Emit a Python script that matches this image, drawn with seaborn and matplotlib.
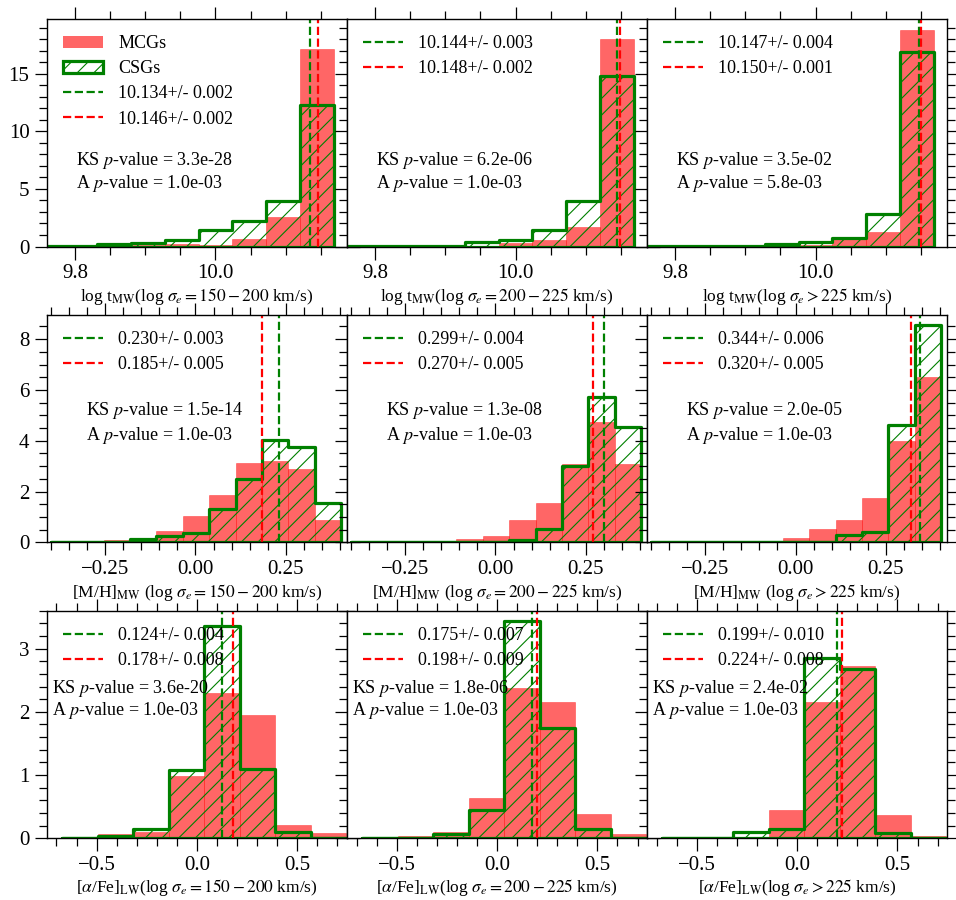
import numpy as np
import pandas as pd
import matplotlib
matplotlib.use("Agg")
import matplotlib.pyplot as plt
from matplotlib.patches import Patch
from matplotlib.lines import Line2D
from matplotlib.ticker import MultipleLocator
import seaborn as sns

# bin edges (one set per row)
t_edges = [9.736, 9.784, 9.832, 9.880, 9.928, 9.976, 10.024, 10.072, 10.120, 10.168]
mh_edges = [-0.400, -0.327, -0.254, -0.181, -0.108, -0.035, 0.038, 0.111, 0.184, 0.257, 0.330, 0.403]
afe_edges = [-0.672, -0.495, -0.318, -0.141, 0.036, 0.213, 0.390, 0.567, 0.744]

# normalised histogram heights, columns: sigma 150-200, 200-225, >225
t_mcg = [[0.03, 0.05, 0.05, 0.10, 0.20, 0.15, 0.66, 2.60, 17.1],
         [0.02, 0.02, 0.02, 0.03, 0.05, 0.30, 0.58, 1.70, 18.0],
         [0.00, 0.00, 0.00, 0.00, 0.02, 0.10, 0.66, 1.27, 18.8]]
t_csg = [[0.05, 0.05, 0.20, 0.30, 0.55, 1.40, 2.20, 3.96, 12.3],
         [0.03, 0.05, 0.05, 0.05, 0.40, 0.58, 1.39, 3.96, 14.8],
         [0.03, 0.03, 0.03, 0.03, 0.20, 0.37, 0.78, 2.83, 16.85]]
mh_mcg = [[0.01, 0.03, 0.08, 0.15, 0.45, 1.03, 1.86, 3.13, 3.20, 2.90, 0.87],
          [0.00, 0.00, 0.00, 0.00, 0.12, 0.24, 0.87, 1.55, 3.10, 4.75, 3.10],
          [0.00, 0.00, 0.00, 0.00, 0.00, 0.17, 0.51, 0.87, 1.74, 3.99, 6.53]]
mh_csg = [[0.01, 0.03, 0.03, 0.12, 0.24, 0.38, 1.30, 2.49, 4.05, 3.76, 1.55],
          [0.00, 0.00, 0.00, 0.00, 0.00, 0.00, 0.10, 0.53, 3.00, 5.74, 4.53],
          [0.00, 0.00, 0.00, 0.00, 0.00, 0.00, 0.00, 0.30, 0.41, 4.62, 8.57]]
afe_mcg = [[0.00, 0.06, 0.105, 0.98, 2.29, 1.95, 0.21, 0.08],
           [0.015, 0.03, 0.095, 0.64, 2.38, 2.15, 0.38, 0.06],
           [0.00, 0.00, 0.00, 0.45, 2.16, 2.72, 0.37, 0.04]]
afe_csg = [[0.00, 0.04, 0.14, 1.08, 3.36, 1.09, 0.095, 0.00],
           [0.01, 0.005, 0.06, 0.45, 3.43, 1.75, 0.14, 0.00],
           [0.00, 0.00, 0.095, 0.14, 2.85, 2.68, 0.09, 0.00]]

# means +/- errors
t_csg_mean, t_csg_err = [10.134, 10.144, 10.147], [0.002, 0.003, 0.004]
t_mcg_mean, t_mcg_err = [10.146, 10.148, 10.150], [0.002, 0.002, 0.001]
mh_csg_mean, mh_csg_err = [0.230, 0.299, 0.344], [0.003, 0.004, 0.006]
mh_mcg_mean, mh_mcg_err = [0.185, 0.270, 0.320], [0.005, 0.005, 0.005]
afe_csg_mean, afe_csg_err = [0.124, 0.175, 0.199], [0.004, 0.007, 0.010]
afe_mcg_mean, afe_mcg_err = [0.178, 0.198, 0.224], [0.008, 0.009, 0.008]

# p-values
t_ks, t_a = ["3.3e-28", "6.2e-06", "3.5e-02"], ["1.0e-03", "1.0e-03", "5.8e-03"]
mh_ks, mh_a = ["1.5e-14", "1.3e-08", "2.0e-05"], ["1.0e-03", "1.0e-03", "1.0e-03"]
afe_ks, afe_a = ["3.6e-20", "1.8e-06", "2.4e-02"], ["1.0e-03", "1.0e-03", "1.0e-03"]

sig_bins = [r"(log $\sigma_e = 150 - 200$ km/s)", r"(log $\sigma_e = 200 - 225$ km/s)",
            r"(log $\sigma_e > 225$ km/s)"]

rows = [
    dict(edges=t_edges, mcg=t_mcg, csg=t_csg, cm=t_csg_mean, ce=t_csg_err, mm=t_mcg_mean, me=t_mcg_err,
         ks=t_ks, a=t_a, name=r"log t$_{\rm MW}$", xlim=(9.76, 10.187), ylim=(0, 19.75),
         xmaj=0.2, xmin=0.05, ymaj=5, ymin=1, txt=(0.097, 0.356, 0.259)),
    dict(edges=mh_edges, mcg=mh_mcg, csg=mh_csg, cm=mh_csg_mean, ce=mh_csg_err, mm=mh_mcg_mean, me=mh_mcg_err,
         ks=mh_ks, a=mh_a, name=r"[M/H]$_{\rm MW}$ ", xlim=(-0.411, 0.419), ylim=(0, 8.96),
         xmaj=0.25, xmin=0.05, ymaj=2, ymin=0.5, txt=(0.13, 0.558, 0.448)),
    dict(edges=afe_edges, mcg=afe_mcg, csg=afe_csg, cm=afe_csg_mean, ce=afe_csg_err, mm=afe_mcg_mean, me=afe_mcg_err,
         ks=afe_ks, a=afe_a, name=r"[$\alpha$/Fe]$_{\rm LW}$", xlim=(-0.748, 0.747), ylim=(0, 3.6),
         xmaj=0.5, xmin=0.1, ymaj=1, ymin=0.2, txt=(0.016, 0.637, 0.542)),
]

sns.set_style("ticks")
plt.rcParams.update({
    "font.family": ["Liberation Serif", "DejaVu Serif"],
    "mathtext.fontset": "stix",
    "hatch.color": "green",
    "hatch.linewidth": 0.8,
    "axes.linewidth": 1.0,
    "axes.edgecolor": "black",
    "text.color": "black",
    "axes.labelcolor": "black",
    "xtick.color": "black",
    "ytick.color": "black",
})

fig, axes = plt.subplots(3, 3, figsize=(9.56, 9.0), dpi=100, sharey="row")
fig.subplots_adjust(left=0.049, right=0.9906, top=0.979, bottom=0.0686, wspace=0, hspace=0.30)

for r, row in enumerate(rows):
    edges = list(row["edges"])
    e = np.array(edges)
    centers = (e[:-1] + e[1:]) / 2
    for c in range(3):
        ax = axes[r, c]
        df = pd.DataFrame({"x": centers, "mcg": row["mcg"][c], "csg": row["csg"][c]})
        sns.histplot(data=df, x="x", weights="mcg", bins=edges, stat="count", element="bars",
                     color="red", alpha=0.6, edgecolor=(1, 0, 0, 0.6), linewidth=0.4, ax=ax)
        sns.histplot(data=df, x="x", weights="csg", bins=edges, stat="count", element="step",
                     fill=True, color="green", ax=ax)
        poly = ax.collections[-1]
        poly.set_alpha(None)
        poly.set_facecolor("none")
        poly.set_edgecolor("green")
        poly.set_hatch("//")
        poly.set_linewidth(2.3)

        ax.axvline(row["cm"][c], color="green", ls="--", lw=1.6)
        ax.axvline(row["mm"][c], color="red", ls="--", lw=1.6)

        handles = [Line2D([], [], color="green", ls="--", lw=1.6),
                   Line2D([], [], color="red", ls="--", lw=1.6)]
        labels = [f"{row['cm'][c]:.3f}+/- {row['ce'][c]:.3f}",
                  f"{row['mm'][c]:.3f}+/- {row['me'][c]:.3f}"]
        if r == 0 and c == 0:
            handles = [Patch(facecolor="red", alpha=0.6, edgecolor="none"),
                       Patch(facecolor="none", edgecolor="green", hatch="//", lw=2.3)] + handles
            labels = ["MCGs", "CSGs"] + labels
        ax.legend(handles, labels, loc="upper left", frameon=False, fontsize=13,
                  handlelength=2.2, handletextpad=0.85, labelspacing=0.45)

        tx, ty1, ty2 = row["txt"]
        ax.text(tx, ty1, f"KS $p$-value = {row['ks'][c]}", transform=ax.transAxes,
                fontsize=13, va="baseline", ha="left")
        ax.text(tx, ty2, f"A $p$-value = {row['a'][c]}", transform=ax.transAxes,
                fontsize=13, va="baseline", ha="left")

        ax.set_xlim(*row["xlim"])
        ax.set_ylim(*row["ylim"])
        ax.xaxis.set_major_locator(MultipleLocator(row["xmaj"]))
        ax.xaxis.set_minor_locator(MultipleLocator(row["xmin"]))
        ax.yaxis.set_major_locator(MultipleLocator(row["ymaj"]))
        ax.yaxis.set_minor_locator(MultipleLocator(row["ymin"]))
        ax.tick_params(which="both", direction="out", top=True, right=True, labelsize=15, width=0.9)
        ax.tick_params(which="major", length=9)
        ax.tick_params(which="minor", length=5.5)
        ax.set_xlabel(row["name"] + sig_bins[c], fontsize=12.5, labelpad=2)
        ax.set_ylabel("")

fig.savefig("out.png", dpi=100)
